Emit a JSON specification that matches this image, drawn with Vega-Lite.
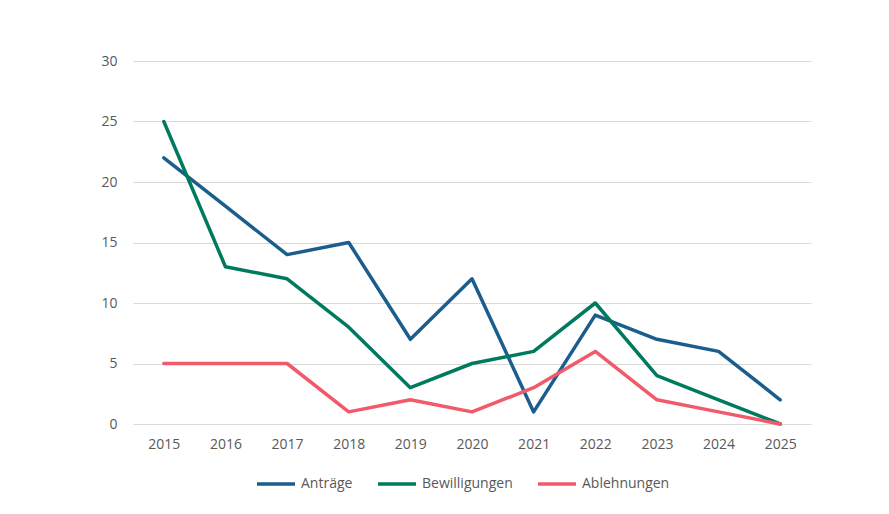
{
  "$schema": "https://vega.github.io/schema/vega-lite/v6.json",
  "width": 678,
  "height": 363,
  "autosize": "none",
  "padding": {"left": 133, "top": 61, "right": 78, "bottom": 90},
  "background": "white",
  "config": {
    "view": {"stroke": null},
    "font": "Open Sans",
    "axis": {"labelColor": "#595959", "labelFontSize": 14, "domain": false, "ticks": false, "titleColor": "#595959"},
    "legend": {"labelColor": "#595959", "labelFontSize": 14}
  },
  "data": {
    "values": [
      {"Jahr": "2015", "Serie": "Anträge", "Wert": 22},
      {"Jahr": "2016", "Serie": "Anträge", "Wert": 18},
      {"Jahr": "2017", "Serie": "Anträge", "Wert": 14},
      {"Jahr": "2018", "Serie": "Anträge", "Wert": 15},
      {"Jahr": "2019", "Serie": "Anträge", "Wert": 7},
      {"Jahr": "2020", "Serie": "Anträge", "Wert": 12},
      {"Jahr": "2021", "Serie": "Anträge", "Wert": 1},
      {"Jahr": "2022", "Serie": "Anträge", "Wert": 9},
      {"Jahr": "2023", "Serie": "Anträge", "Wert": 7},
      {"Jahr": "2024", "Serie": "Anträge", "Wert": 6},
      {"Jahr": "2025", "Serie": "Anträge", "Wert": 2},
      {"Jahr": "2015", "Serie": "Bewilligungen", "Wert": 25},
      {"Jahr": "2016", "Serie": "Bewilligungen", "Wert": 13},
      {"Jahr": "2017", "Serie": "Bewilligungen", "Wert": 12},
      {"Jahr": "2018", "Serie": "Bewilligungen", "Wert": 8},
      {"Jahr": "2019", "Serie": "Bewilligungen", "Wert": 3},
      {"Jahr": "2020", "Serie": "Bewilligungen", "Wert": 5},
      {"Jahr": "2021", "Serie": "Bewilligungen", "Wert": 6},
      {"Jahr": "2022", "Serie": "Bewilligungen", "Wert": 10},
      {"Jahr": "2023", "Serie": "Bewilligungen", "Wert": 4},
      {"Jahr": "2024", "Serie": "Bewilligungen", "Wert": 2},
      {"Jahr": "2025", "Serie": "Bewilligungen", "Wert": 0},
      {"Jahr": "2015", "Serie": "Ablehnungen", "Wert": 5},
      {"Jahr": "2016", "Serie": "Ablehnungen", "Wert": 5},
      {"Jahr": "2017", "Serie": "Ablehnungen", "Wert": 5},
      {"Jahr": "2018", "Serie": "Ablehnungen", "Wert": 1},
      {"Jahr": "2019", "Serie": "Ablehnungen", "Wert": 2},
      {"Jahr": "2020", "Serie": "Ablehnungen", "Wert": 1},
      {"Jahr": "2021", "Serie": "Ablehnungen", "Wert": 3},
      {"Jahr": "2022", "Serie": "Ablehnungen", "Wert": 6},
      {"Jahr": "2023", "Serie": "Ablehnungen", "Wert": 2},
      {"Jahr": "2024", "Serie": "Ablehnungen", "Wert": 1},
      {"Jahr": "2025", "Serie": "Ablehnungen", "Wert": 0}
    ]
  },
  "mark": {"type": "line", "strokeWidth": 3.5, "strokeCap": "round", "strokeJoin": "round"},
  "encoding": {
    "x": {
      "field": "Jahr", "type": "ordinal", "title": null,
      "scale": {"type": "point", "padding": 0.5},
      "axis": {"labelAngle": 0, "grid": false, "labelPadding": 13}
    },
    "y": {
      "field": "Wert", "type": "quantitative", "title": null,
      "scale": {"domain": [0, 30]},
      "axis": {"values": [0, 5, 10, 15, 20, 25, 30], "gridColor": "#d9d9d9", "gridWidth": 1.2, "labelPadding": 16}
    },
    "color": {
      "field": "Serie", "type": "nominal", "title": null,
      "scale": {"domain": ["Anträge", "Bewilligungen", "Ablehnungen"], "range": ["#1b5e8e", "#007a5e", "#f05a6a"]},
      "legend": {
        "orient": "none", "legendX": 122, "legendY": 402, "direction": "horizontal", "symbolType": "stroke",
        "symbolSize": 1444, "symbolStrokeWidth": 3.5, "columnPadding": 18, "labelOffset": 4
      }
    }
  }
}
